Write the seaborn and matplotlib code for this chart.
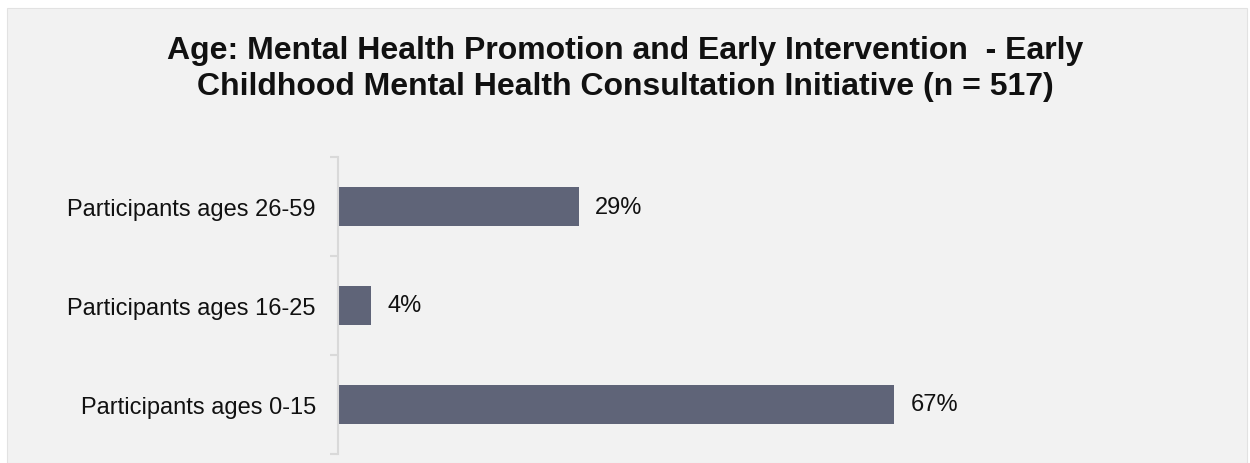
import matplotlib
matplotlib.use('Agg')
import matplotlib.pyplot as plt
from matplotlib.patches import Rectangle
from matplotlib.ticker import FixedLocator
import seaborn as sns

# Chart data
categories = ['Participants ages 26-59', 'Participants ages 16-25', 'Participants ages 0-15']
percentages = [29, 4, 67]
value_labels = ['29%', '4%', '67%']
title = ('Age: Mental Health Promotion and Early Intervention  - Early\n'
         'Childhood Mental Health Consultation Initiative (n = 517)')

sns.set_style('white')
plt.rcParams['font.family'] = ['Liberation Sans', 'DejaVu Sans']

bg = '#f2f2f2'
bar_color = '#5f6478'
axis_gray = '#d9d9d9'

fig = plt.figure(figsize=(12.5, 4.64), dpi=100)
fig.patch.set_facecolor('white')
# light gray panel behind everything
fig.patches.append(Rectangle((7 / 1250, 0), 1240 / 1250, 455 / 464, transform=fig.transFigure,
                             facecolor=bg, edgecolor='#e2e2e2', linewidth=0.8, zorder=-1))

ax = fig.add_axes([338 / 1250, 9 / 464, 872 / 1250, 297 / 464])
ax.set_facecolor(bg)
ax.set_zorder(1)

sns.barplot(x=percentages, y=categories, orient='h', color=bar_color, saturation=1,
            width=0.4, linewidth=0, ax=ax)
ax.bar_label(ax.containers[0], labels=value_labels, padding=11.5, fontsize=17, color='#111111')

ax.set_xlim(0, 105)
ax.set_ylim(2.5, -0.5)
ax.set_xlabel('')
ax.set_ylabel('')
ax.set_xticks([])

for side in ['top', 'right', 'bottom']:
    ax.spines[side].set_visible(False)
ax.spines['left'].set_color(axis_gray)
ax.spines['left'].set_linewidth(1.5)

ax.tick_params(axis='y', which='major', length=0, pad=16, labelsize=17, labelcolor='#111111')
ax.yaxis.set_minor_locator(FixedLocator([-0.5, 0.5, 1.5, 2.5]))
ax.tick_params(axis='y', which='minor', length=6, width=1.5, color=axis_gray, left=True)

fig.text(0.5, 0.852, title, ha='center', va='center', fontsize=23, fontweight='bold',
         color='#111111', linespacing=1.25)

fig.savefig('out.png', dpi=100, facecolor=fig.get_facecolor())
